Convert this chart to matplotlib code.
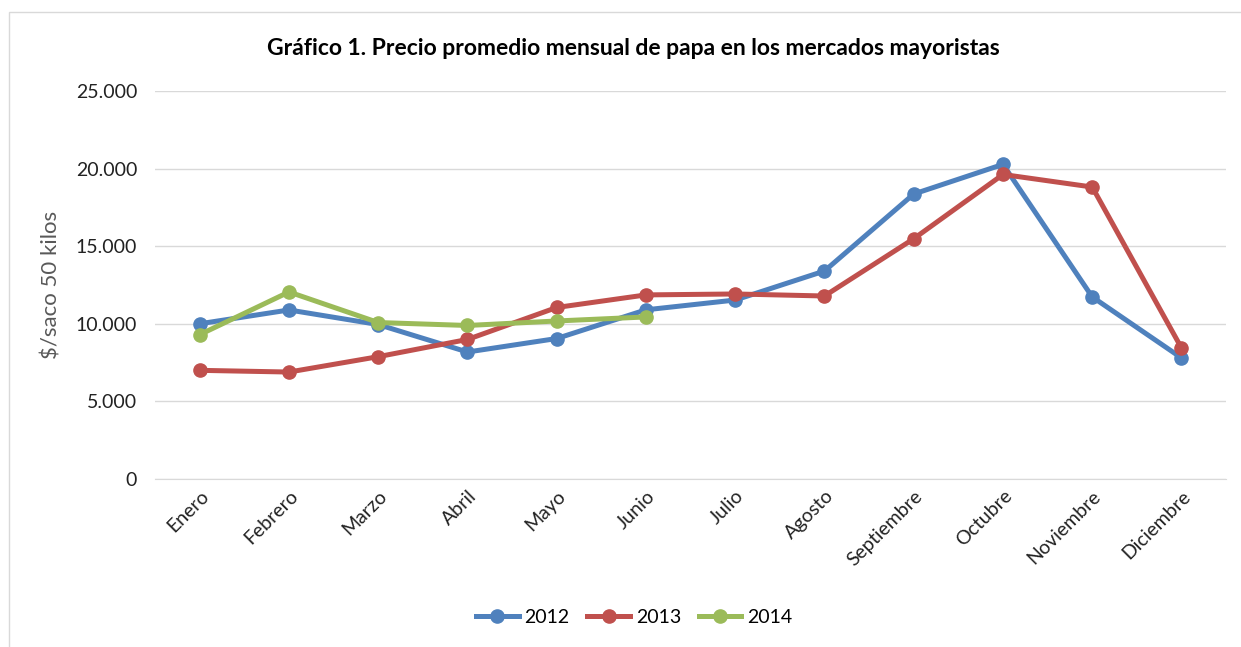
import matplotlib.pyplot as plt
from matplotlib.ticker import FuncFormatter
from matplotlib.patches import Rectangle

plt.rcParams['font.family'] = ['Lato', 'DejaVu Sans']

meses = ['Enero', 'Febrero', 'Marzo', 'Abril', 'Mayo', 'Junio', 'Julio',
         'Agosto', 'Septiembre', 'Octubre', 'Noviembre', 'Diciembre']
p2012 = [10000, 10890, 9950, 8180, 9050, 10900, 11530, 13400, 18360, 20270, 11730, 7800]
p2013 = [7000, 6890, 7880, 8990, 11050, 11860, 11920, 11790, 15480, 19620, 18810, 8440]
p2014 = [9300, 12050, 10080, 9890, 10180, 10440]

fig = plt.figure(figsize=(12.41, 6.47), dpi=100)
ax = fig.add_axes([0.125, 0.2597, 0.863, 0.5997])

x = list(range(len(meses)))
ax.plot(x, p2012, color='#4F81BD', lw=3.6, marker='o', ms=9.5, label='2012')
ax.plot(x, p2013, color='#C0504D', lw=3.6, marker='o', ms=9.5, label='2013')
ax.plot(x[:len(p2014)], p2014, color='#9BBB59', lw=3.6, marker='o', ms=9.5, label='2014')

ax.set_xlim(-0.5, 11.5)
ax.set_ylim(0, 25000)
ax.set_yticks(range(0, 25001, 5000))
ax.yaxis.set_major_formatter(FuncFormatter(lambda v, p: f'{int(v):,}'.replace(',', '.')))
ax.set_xticks(x)
ax.set_xticklabels(meses, rotation=45, ha='right', rotation_mode='anchor')
ax.tick_params(axis='both', length=0, labelsize=14, colors='#222222')
ax.tick_params(axis='y', pad=13)
ax.tick_params(axis='x', pad=6)
ax.grid(axis='y', color='#D9D9D9', lw=1)
ax.set_axisbelow(True)
for s in ['top', 'right', 'left']:
    ax.spines[s].set_visible(False)
ax.spines['bottom'].set_color('#D9D9D9')

ax.set_ylabel('\\$/saco 50 kilos', fontsize=16, color='#595959', labelpad=10)
fig.text(0.51, 0.925, 'Gráfico 1. Precio promedio mensual de papa en los mercados mayoristas',
         ha='center', va='center', fontsize=16.5, fontweight='bold')

fig.legend(loc='center', bbox_to_anchor=(0.511, 0.046), ncol=3, frameon=False,
           fontsize=14, handlelength=2.2, columnspacing=0.9, handletextpad=0.3)

fig.patches.append(Rectangle((9 / 1241, -0.1), 1.2, 1 - 12 / 647 + 0.1,
                             transform=fig.transFigure, fill=False,
                             edgecolor='#D9D9D9', lw=1))

fig.savefig('out.png', dpi=100)
